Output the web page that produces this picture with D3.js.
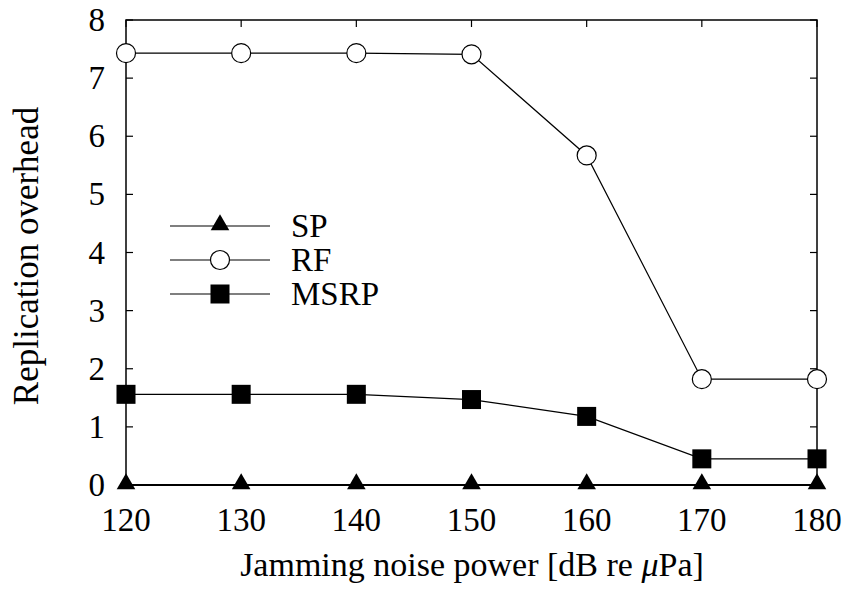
<!DOCTYPE html>
<html>
<head>
<meta charset="utf-8">
<script src="https://cdn.jsdelivr.net/npm/d3@7"></script>
<style>
  body { margin: 0; background: #fff; }
  text { font-family: "Liberation Serif", "Times New Roman", serif; fill: #000; }
</style>
</head>
<body>
<div id="vis"></div>
<script>
var width = 849;
var height = 592;

var power = [120, 130, 140, 150, 160, 170, 180];
var sp   = [0, 0, 0, 0, 0, 0, 0];
var rf   = [7.43, 7.43, 7.43, 7.41, 5.67, 1.82, 1.82];
var msrp = [1.56, 1.56, 1.56, 1.47, 1.18, 0.45, 0.45];
var xTicks = [120, 130, 140, 150, 160, 170, 180];
var yTicks = [0, 1, 2, 3, 4, 5, 6, 7, 8];

var series = [
  {name: "SP", values: sp, mark: "triangle"},
  {name: "RF", values: rf, mark: "circle"},
  {name: "MSRP", values: msrp, mark: "square"}
];

var pLeft = 126, pRight = 817, pTop = 20, pBottom = 485;

var x = d3.scaleLinear().domain([120, 180]).range([pLeft, pRight]);
var y = d3.scaleLinear().domain([0, 8]).range([pBottom, pTop]);

var svg = d3.select("#vis").append("svg")
  .attr("width", width).attr("height", height);

// ticks (inward, mirrored)
var tk = svg.append("g").attr("stroke", "#000").attr("stroke-width", 1.2);
tk.selectAll(".xb").data(xTicks).enter().append("line")
  .attr("x1", d => x(d)).attr("x2", d => x(d))
  .attr("y1", pBottom).attr("y2", pBottom - 7);
tk.selectAll(".xt").data(xTicks).enter().append("line")
  .attr("x1", d => x(d)).attr("x2", d => x(d))
  .attr("y1", pTop).attr("y2", pTop + 7);
tk.selectAll(".yl").data(yTicks).enter().append("line")
  .attr("x1", pLeft).attr("x2", pLeft + 7)
  .attr("y1", d => y(d)).attr("y2", d => y(d));
tk.selectAll(".yr").data(yTicks).enter().append("line")
  .attr("x1", pRight).attr("x2", pRight - 7)
  .attr("y1", d => y(d)).attr("y2", d => y(d));

svg.append("rect")
  .attr("x", pLeft).attr("y", pTop)
  .attr("width", pRight - pLeft).attr("height", pBottom - pTop)
  .attr("fill", "none").attr("stroke", "#000").attr("stroke-width", 1.5);

// tick labels
svg.append("g").selectAll("text").data(xTicks).enter().append("text")
  .attr("x", d => x(d)).attr("y", 531)
  .attr("text-anchor", "middle")
  .style("font-size", "33px")
  .text(d => d);
svg.append("g").selectAll("text").data(yTicks).enter().append("text")
  .attr("x", 105).attr("y", d => y(d) + 11)
  .attr("text-anchor", "end")
  .style("font-size", "33px")
  .text(d => d);

// axis titles
var xl = svg.append("text")
  .attr("x", 472).attr("y", 576)
  .attr("text-anchor", "middle")
  .style("font-size", "34px");
xl.append("tspan").text("Jamming noise power [dB re ");
xl.append("tspan").style("font-style", "italic").text("\u03bc");
xl.append("tspan").text("Pa]");

svg.append("text")
  .attr("transform", "translate(38,256) rotate(-90)")
  .attr("text-anchor", "middle")
  .style("font-size", "35px")
  .text("Replication overhead");

function drawMark(g, kind, cx, cy) {
  if (kind === "circle") {
    g.append("circle").attr("cx", cx).attr("cy", cy).attr("r", 9.5)
      .attr("fill", "#fff").attr("stroke", "#000").attr("stroke-width", 1.2);
  } else if (kind === "square") {
    g.append("rect").attr("x", cx - 9.5).attr("y", cy - 9.5)
      .attr("width", 19).attr("height", 19).attr("fill", "#000");
  } else {
    g.append("path")
      .attr("d", d3.symbol(d3.symbolTriangle, 150)())
      .attr("transform", "translate(" + cx + "," + (cy - 1) + ")")
      .attr("fill", "#000");
  }
}

var line = d3.line().x((d, i) => x(power[i])).y(d => y(d));

var plot = svg.append("g");
series.forEach(function(s) {
  plot.append("path")
    .attr("d", line(s.values))
    .attr("fill", "none")
    .attr("stroke", "#000")
    .attr("stroke-width", s.name === "SP" ? 2 : 1.2);
});
series.forEach(function(s) {
  var g = plot.append("g");
  s.values.forEach(function(v, i) { drawMark(g, s.mark, x(power[i]), y(v)); });
});

// legend
var legend = svg.append("g");
series.forEach(function(s, i) {
  var ly = 226 + i * 34;
  legend.append("line").attr("x1", 170).attr("x2", 270)
    .attr("y1", ly).attr("y2", ly)
    .attr("stroke", "#000").attr("stroke-width", 1.2);
  drawMark(legend, s.mark, 220, ly);
  legend.append("text").attr("x", 291).attr("y", ly + 10.5)
    .style("font-size", "33px")
    .text(s.name);
});
</script>
</body>
</html>
